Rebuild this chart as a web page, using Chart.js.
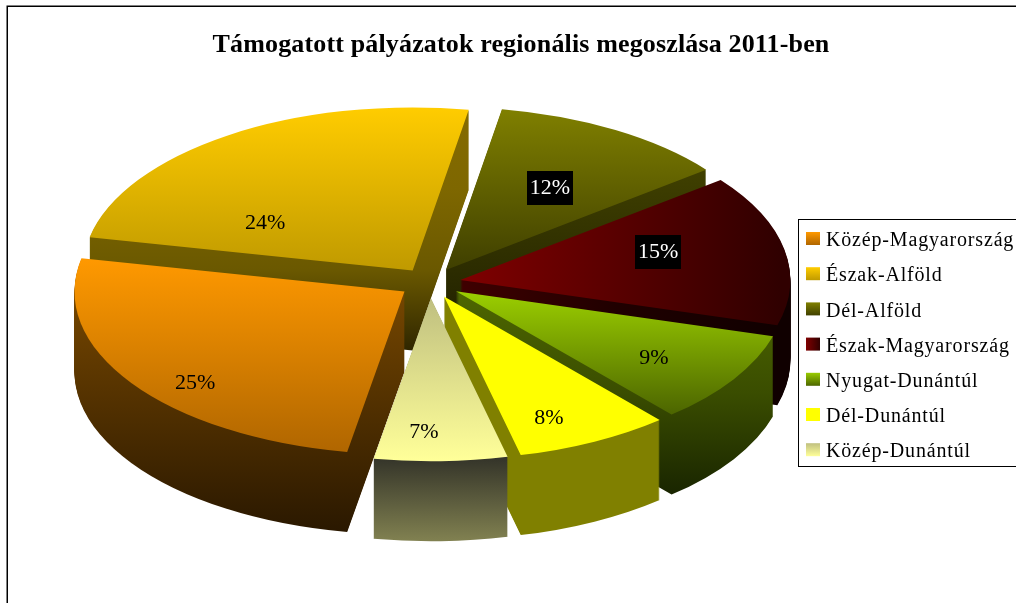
<!DOCTYPE html>
<html><head><meta charset="utf-8">
<style>html,body{margin:0;padding:0;background:#fff}canvas{display:block}</style>
<script src="https://cdn.jsdelivr.net/npm/chart.js@4"></script>
</head><body><canvas id="c" width="1016" height="603"></canvas>
<script>
const chartTitle = 'Támogatott pályázatok regionális megoszlása 2011-ben';
const categories = ['Közép-Magyarország','Észak-Alföld','Dél-Alföld','Észak-Magyarország','Nyugat-Dunántúl','Dél-Dunántúl','Közép-Dunántúl'];
const shares = [25.49,24.45,11.75,15,9.2,7.6,6.51];
const startAngle = 190;

// styling, one entry per slice: [axis, startPx, endPx, stops]
const topFaces = [
  ['y',258,452,['#ff9900','#b06600']],
  ['y',108,270,['#ffcc00','#c09a00']],
  ['y',108,268,['#808000','#404000']],
  ['x',457,780,['#800000','#300000']],
  ['y',295,413,['#99cc00','#4d6600']],
  ['y',300,460,['#ffff00','#ffff00']],
  ['y',300,460,['#c0c080','#ffff99']]
];
const sideFaces = [
  ['y',258,532,['#804d00','#2a1800']],
  ['y',108,352,['#856b00','#7e6700','#6a5800','#2e2500']],
  ['y',170,350,['#404000','#1c1c00']],
  ['x',457,778,['#400000','#200000','#100000']],
  ['y',295,492,['#4d6600','#3a4d00','#1a2600']],
  ['y',300,540,['#808000','#808000']],
  ['y',460,540,['#36362a','#808050']]
];
const legendSwatches = [
  ['y',0,13,['#ff9900','#b06600']],
  ['y',0,13,['#ffcc00','#c09a00']],
  ['y',0,13,['#808000','#404000']],
  ['x',0,14,['#800000','#300000']],
  ['y',0,13,['#99cc00','#4d6600']],
  ['y',0,13,['#ffff00','#ffff00']],
  ['y',0,13,['#c0c080','#ffff99']]
];
const paintOrder = [1,2,3,4,0,5,6];
const labelReach = [[.766,1.005],[.794,.353],[.613,.586],[.611,.895],[.712,.757],[.697,.837],[-.7,.82]];
const labelBoxed = [false,false,true,true,false,false,false];
const view = {cx:430, cy:283, rx:330, ry:163, depth:80, explode:24};

function grad(ctx, spec, toAxis){
  const [axis,a,b,stops] = spec;
  const p0 = toAxis(a), p1 = toAxis(b);
  const g = axis==='y' ? ctx.createLinearGradient(0,p0,0,p1) : ctx.createLinearGradient(p0,0,p1,0);
  stops.forEach((s,i)=>g.addColorStop(i/(stops.length-1),s));
  return g;
}
function faceOptions(fill){
  return {backgroundColor:fill,borderColor:'transparent',borderWidth:0,borderAlign:'center',borderRadius:0,
    offset:0,spacing:0,circular:true,borderJoinStyle:'round',borderDash:[],borderDashOffset:0};
}
function withSpacing(box,ctx,spacing){
  if(box._spaced) return;
  const draw = box.draw;
  box.draw = function(...a){ ctx.letterSpacing = spacing; draw.apply(this,a); ctx.letterSpacing = '0px'; };
  box._spaced = true;
}
const pie3d = {
  id:'pie3d',
  afterLayout(chart){
    const l = chart.legend;
    const pad = l.options.labels.padding;
    l.left = 806-pad; l.right = 1016; l.width = l.right-l.left;
    l.top = 215.8; l.bottom = 603; l.height = l.bottom-l.top;
    const t = chart.titleBlock;
    t.left = 26; t.right = 1016; t.width = 990; t.top = 6; t.bottom = 70; t.height = 64;
    withSpacing(l,chart.ctx,'0.83px');
    withSpacing(t,chart.ctx,'0.15px');
  },
  beforeDraw(chart){
    const ctx = chart.ctx;
    ctx.save();
    ctx.fillStyle = '#fff'; ctx.fillRect(0,0,1016,603);
    ctx.strokeStyle = '#000'; ctx.lineWidth = 1.5;
    ctx.strokeRect(7.25,6.25,1030,620);
    ctx.lineWidth = 1;
    ctx.strokeRect(798.5,219.5,240,247);
    ctx.restore();
  },
  beforeDatasetDraw(chart){
    const ctx = chart.ctx;
    const arcs = chart.getDatasetMeta(0).data;
    paintOrder.forEach(i=>{
      const arc = arcs[i];
      const sx = view.rx/arc.outerRadius, sy = view.ry/arc.outerRadius;
      const h = (arc.startAngle+arc.endAngle)/2;
      const e = arc.options.offset;
      const tx = view.cx - sx*(arc.x - e*Math.cos(h));
      const ty = view.cy - sy*(arc.y - e*Math.sin(h));
      const face = Object.create(arc);
      const paint = (k,spec)=>{
        ctx.save();
        ctx.setTransform(sx,0,0,sy,tx,ty+k);
        const fill = grad(ctx,spec,spec[0]==='y' ? (Y=>(Y-ty-k)/sy) : (X=>(X-tx)/sx));
        face.options = faceOptions(fill);
        Object.getPrototypeOf(face).draw.call(face,ctx);
        ctx.restore();
      };
      for(let k=view.depth;k>=1;k--) paint(k,sideFaces[i]);
      paint(0,topFaces[i]);
    });
    return false;
  },
  afterDatasetsDraw(chart){
    const ctx = chart.ctx;
    const arcs = chart.getDatasetMeta(0).data;
    ctx.save();
    ctx.font = '22px "Liberation Serif"';
    ctx.textAlign = 'center'; ctx.textBaseline = 'middle';
    arcs.forEach((arc,i)=>{
      const sx = view.rx/arc.outerRadius, sy = view.ry/arc.outerRadius;
      const h = (arc.startAngle+arc.endAngle)/2;
      const e = arc.options.offset;
      const x = view.cx + Math.cos(h)*(e*sx + view.rx*labelReach[i][0]);
      const y = view.cy + Math.sin(h)*(e*sy + view.ry*labelReach[i][1]);
      const text = Math.round(shares[i])+'%';
      if(labelBoxed[i]){
        ctx.fillStyle='#000'; ctx.fillRect(Math.round(x)-23,Math.round(y)-17,46,34);
        ctx.fillStyle='#fff';
      } else ctx.fillStyle='#000';
      ctx.fillText(text,x,y);
    });
    legendSwatches.forEach((spec,i)=>{
      const top = 232+i*35.2;
      ctx.fillStyle = grad(ctx,spec,spec[0]==='y'?(v=>top+v):(v=>806+v));
      ctx.fillRect(806,top,14,13);
    });
    ctx.restore();
  }
};
new Chart(document.getElementById('c'),{
  type:'pie',
  data:{labels:categories,datasets:[{data:shares,offset:view.explode,borderWidth:0,backgroundColor:topFaces.map(f=>f[3][0])}]},
  plugins:[pie3d],
  options:{
    responsive:false,animation:false,devicePixelRatio:1,rotation:startAngle,
    plugins:{
      tooltip:{enabled:false},
      title:{display:true,text:chartTitle,color:'#000',font:{family:'"Liberation Serif"',size:26,weight:'bold'},padding:{top:24,bottom:10}},
      legend:{display:true,position:'right',align:'start',labels:{
        font:{family:'"Liberation Serif"',size:20},color:'#000',boxWidth:10,boxHeight:13,padding:15.2,
        generateLabels(){
          return categories.map((t,i)=>({text:t,index:i,hidden:false,lineWidth:0,strokeStyle:'transparent',fillStyle:'transparent'}));
        }
      }}
    }
  }
});
</script></body></html>
